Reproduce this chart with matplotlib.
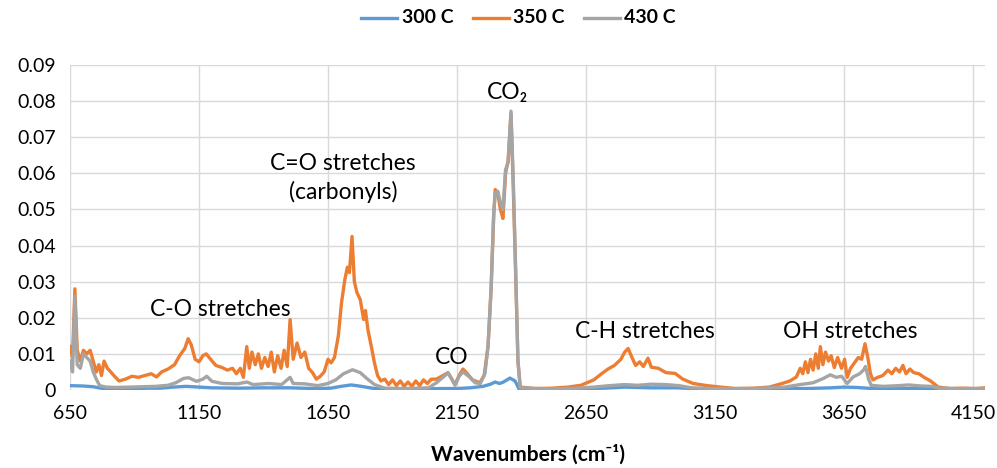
import matplotlib.pyplot as plt
import numpy as np

# 350 C spectrum (orange)
wn_350 = [650, 660, 669, 678, 690, 702, 715, 728, 740, 752, 762, 772, 782, 795, 808, 820,
          840, 865, 890, 915, 940, 965, 985, 1005, 1030, 1055, 1075, 1095, 1108, 1120, 1135,
          1150, 1165, 1178, 1195, 1215, 1240, 1260, 1280, 1295, 1310, 1322, 1335, 1345, 1355,
          1368, 1380, 1392, 1405, 1418, 1430, 1442, 1455, 1468, 1480, 1492, 1503, 1515, 1530,
          1545, 1560, 1575, 1590, 1605, 1620, 1635, 1650, 1662, 1675, 1690, 1702, 1715, 1725,
          1733, 1743, 1752, 1762, 1775, 1788, 1795, 1805, 1818, 1830, 1842, 1855, 1870, 1885,
          1900, 1915, 1930, 1945, 1960, 1975, 1990, 2005, 2020, 2035, 2050, 2070, 2090, 2115,
          2130, 2142, 2158, 2173, 2190, 2210, 2238, 2255, 2270, 2282, 2292, 2298, 2308, 2318,
          2328, 2338, 2348, 2359, 2368, 2378, 2386, 2395, 2450, 2520, 2580, 2630, 2680, 2710,
          2735, 2760, 2785, 2800, 2813, 2828, 2842, 2858, 2872, 2890, 2903, 2930, 2960, 2995,
          3025, 3065, 3120, 3170, 3230, 3300, 3360, 3410, 3440, 3465, 3480, 3490, 3500, 3510,
          3520, 3530, 3540, 3550, 3558, 3568, 3578, 3590, 3600, 3612, 3625, 3640, 3652, 3662,
          3675, 3690, 3705, 3718, 3731, 3742, 3752, 3762, 3780, 3800, 3820, 3835, 3850, 3865,
          3878, 3890, 3905, 3920, 3940, 3960, 3985, 4015, 4060, 4110, 4160, 4197]
abs_350 = [0.012, 0.009, 0.028, 0.011, 0.008, 0.011, 0.010, 0.011, 0.008, 0.005, 0.007, 0.004,
           0.008, 0.006, 0.005, 0.004, 0.0025, 0.0030, 0.0038, 0.0035, 0.0040, 0.0045, 0.0036,
           0.0050, 0.0058, 0.0070, 0.0095, 0.0115, 0.0142, 0.0125, 0.0085, 0.0078, 0.0095,
           0.0100, 0.0085, 0.0068, 0.0062, 0.0055, 0.0060, 0.0045, 0.0060, 0.0035, 0.0120,
           0.0060, 0.0105, 0.0070, 0.0100, 0.0060, 0.0090, 0.0065, 0.0105, 0.0050, 0.0095,
           0.0060, 0.0110, 0.0065, 0.0195, 0.0085, 0.0130, 0.0090, 0.0105, 0.0060, 0.0048,
           0.0030, 0.0038, 0.0050, 0.0085, 0.0075, 0.0090, 0.0150, 0.0240, 0.0305, 0.0340,
           0.0325, 0.0425, 0.0300, 0.0270, 0.0250, 0.0195, 0.0220, 0.0165, 0.0120, 0.0075,
           0.0040, 0.0025, 0.0030, 0.0015, 0.0028, 0.0012, 0.0025, 0.0010, 0.0022, 0.0010,
           0.0025, 0.0012, 0.0028, 0.0018, 0.0030, 0.0030, 0.0038, 0.0048, 0.0030, 0.0015,
           0.0040, 0.0058, 0.0045, 0.0028, 0.0020, 0.0040, 0.0120, 0.0280, 0.0480, 0.0555,
           0.0545, 0.0500, 0.0475, 0.0600, 0.0635, 0.0765, 0.0560, 0.0300, 0.0080, 0.0008,
           0.0004, 0.0005, 0.0008, 0.0013, 0.0028, 0.0045, 0.0058, 0.0068, 0.0085, 0.0105,
           0.0115, 0.0090, 0.0068, 0.0078, 0.0065, 0.0088, 0.0063, 0.0060, 0.0048, 0.0046,
           0.0030, 0.0018, 0.0012, 0.0008, 0.0004, 0.0005, 0.0008, 0.0018, 0.0025, 0.0036,
           0.0060, 0.0045, 0.0078, 0.0048, 0.0085, 0.0055, 0.0100, 0.0060, 0.0120, 0.0070,
           0.0105, 0.0080, 0.0095, 0.0062, 0.0090, 0.0060, 0.0085, 0.0035, 0.0060, 0.0075,
           0.0090, 0.0085, 0.0128, 0.0090, 0.0045, 0.0028, 0.0035, 0.0040, 0.0055, 0.0045,
           0.0060, 0.0050, 0.0068, 0.0045, 0.0058, 0.0048, 0.0045, 0.0035, 0.0025, 0.0008,
           0.0004, 0.0005, 0.0004, 0.0006]

# 430 C spectrum (grey)
wn_430 = [650, 660, 669, 678, 690, 702, 715, 728, 740, 752, 765, 790, 830, 880, 930, 980,
          1030, 1060, 1090, 1110, 1140, 1165, 1180, 1200, 1240, 1300, 1335, 1360, 1420, 1470,
          1503, 1515, 1560, 1610, 1650, 1680, 1710, 1745, 1775, 1800, 1830, 1870, 1950, 2040,
          2070, 2090, 2115, 2130, 2142, 2158, 2173, 2195, 2220, 2240, 2258, 2270, 2282, 2292,
          2298, 2308, 2318, 2328, 2338, 2348, 2359, 2368, 2378, 2386, 2395, 2500, 2620, 2680,
          2740, 2800, 2850, 2900, 2960, 3010, 3060, 3150, 3300, 3420, 3480, 3530, 3570, 3596,
          3620, 3640, 3662, 3685, 3710, 3725, 3733, 3745, 3755, 3800, 3860, 3900, 3950, 3990,
          4020, 4100, 4197]
abs_430 = [0.008, 0.005, 0.026, 0.007, 0.006, 0.010, 0.009, 0.008, 0.005, 0.003, 0.0012,
           0.0008, 0.0007, 0.0008, 0.0009, 0.0010, 0.0013, 0.0020, 0.0032, 0.0034, 0.0024,
           0.0030, 0.0038, 0.0024, 0.0018, 0.0017, 0.0022, 0.0015, 0.0018, 0.0015, 0.0035,
           0.0018, 0.0017, 0.0012, 0.0018, 0.0028, 0.0045, 0.0056, 0.0048, 0.0032, 0.0015,
           0.0005, 0.0004, 0.0006, 0.0020, 0.0032, 0.0047, 0.0030, 0.0013, 0.0038, 0.0050,
           0.0038, 0.0020, 0.0018, 0.0045, 0.0120, 0.0280, 0.0490, 0.0545, 0.0550, 0.0520,
           0.0500, 0.0610, 0.0630, 0.0772, 0.0580, 0.0310, 0.0080, 0.0006, 0.0003, 0.0005,
           0.0008, 0.0012, 0.0015, 0.0013, 0.0016, 0.0015, 0.0012, 0.0006, 0.0004, 0.0004,
           0.0008, 0.0015, 0.0020, 0.0032, 0.0042, 0.0035, 0.0038, 0.0018, 0.0036, 0.0045,
           0.0055, 0.0065, 0.0030, 0.0013, 0.0010, 0.0012, 0.0014, 0.0011, 0.0010, 0.0005,
           0.0004, 0.0004]

# 300 C spectrum (blue)
wn_300 = [650, 700, 740, 770, 800, 850, 900, 950, 1000, 1050, 1100, 1150, 1200, 1300, 1400,
          1500, 1600, 1660, 1700, 1740, 1780, 1830, 1900, 2000, 2100, 2150, 2200, 2250, 2280,
          2297, 2315, 2330, 2355, 2375, 2390, 2500, 2650, 2750, 2800, 2900, 3000, 3100, 3300,
          3500, 3600, 3650, 3700, 3760, 3900, 4197]
abs_300 = [0.0012, 0.0011, 0.0009, 0.0005, 0.0003, 0.0004, 0.0003, 0.0005, 0.0005, 0.0008,
           0.0010, 0.0008, 0.0006, 0.0005, 0.0006, 0.0006, 0.0004, 0.0005, 0.0010, 0.0014,
           0.0010, 0.0004, 0.0003, 0.0003, 0.0004, 0.0004, 0.0006, 0.0010, 0.0016, 0.0022,
           0.0018, 0.0022, 0.0033, 0.0025, 0.0003, 0.0002, 0.0003, 0.0006, 0.0008, 0.0006,
           0.0006, 0.0003, 0.0003, 0.0004, 0.0006, 0.0008, 0.0007, 0.0004, 0.0004, 0.0003]

x_ticks = [650, 1150, 1650, 2150, 2650, 3150, 3650, 4150]
y_ticks = [0, 0.01, 0.02, 0.03, 0.04, 0.05, 0.06, 0.07, 0.08, 0.09]

plt.rcParams['font.family'] = ['Lato', 'DejaVu Sans']

fig = plt.figure(figsize=(9.97, 4.68), dpi=100)
ax = fig.add_axes([0.0702, 0.1667, 0.918, 0.6945])

ax.plot(wn_300, abs_300, color='#5B9BD5', linewidth=2.4, label='300 C', zorder=3)
ax.plot(wn_350, abs_350, color='#ED7D31', linewidth=2.4, label='350 C', zorder=4)
ax.plot(wn_430, abs_430, color='#A5A5A5', linewidth=2.4, label='430 C', zorder=5)

ax.set_xlim(650, 4197)
ax.set_ylim(0, 0.09)
ax.set_xticks(x_ticks)
ax.set_yticks(y_ticks)
ax.set_yticklabels(['0' if v == 0 else f'{v:.2f}' for v in y_ticks])
ax.tick_params(length=0, labelsize=14, pad=10)
ax.tick_params(axis='x', pad=11)
ax.grid(True, color='#D9D9D9', linewidth=1)
ax.set_axisbelow(True)
for s in ax.spines.values():
    s.set_visible(False)

ax.set_xlabel('Wavenumbers (cm⁻¹)', fontsize=15, fontweight='bold', labelpad=16)

# band labels
txt = dict(fontsize=16.5, ha='center', va='center', color='black')
ax.text(1231, 0.0222, 'C-O stretches', **txt)
ax.text(1708, 0.0587, 'C=O stretches\n(carbonyls)', linespacing=1.35, **txt)
ax.text(2130, 0.0091, 'CO', **txt)
ax.text(2344, 0.0823, 'CO₂', **txt)
ax.text(2879, 0.0161, 'C-H stretches', **txt)
ax.text(3673, 0.0161, 'OH stretches', **txt)

leg = ax.legend(loc='center', bbox_to_anchor=(0.49, 1.145), ncol=3, frameon=False,
                handlelength=2.6, columnspacing=1.4, handletextpad=0.3)
for t in leg.get_texts():
    t.set_fontweight('bold')
    t.set_fontsize(14)

fig.savefig('out.png', dpi=100)
